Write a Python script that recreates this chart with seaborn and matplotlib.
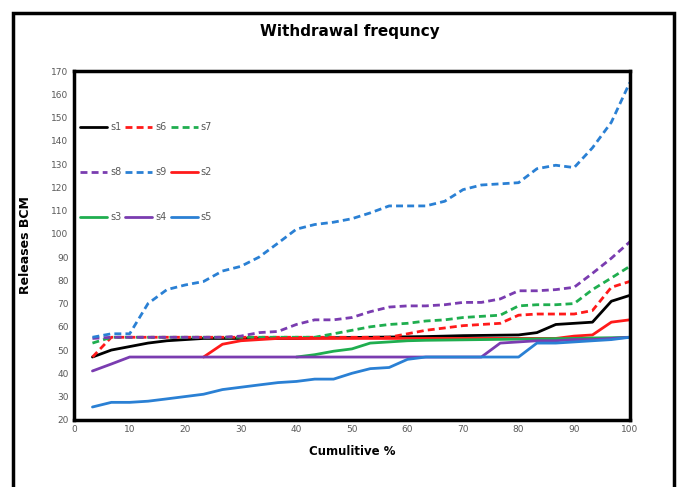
import numpy as np
import pandas as pd
import matplotlib
matplotlib.use("Agg")
import matplotlib.pyplot as plt
import seaborn as sns
from matplotlib.patches import Rectangle

# x positions (cumulative %)
cum_pct = [3.3, 6.7, 10, 13.3, 16.7, 20, 23.3, 26.7, 30, 33.3,
           36.7, 40, 43.3, 46.7, 50, 53.3, 56.7, 60, 63.3, 66.7,
           70, 73.3, 76.7, 80, 83.3, 86.7, 90, 93.3, 96.7, 100]

nan = np.nan
s1 = [47, 50, 51.5, 53, 54, 54.5, 55, 55, 55, 55,
      55, 55, 55.2, 55.3, 55.4, 55.5, 55.6, 55.7, 55.8, 56,
      56.2, 56.3, 56.4, 56.5, 57.5, 61, 61.5, 62, 71, 73.5]
s6 = [47, 55.5, 55.5, 55.5, 55.5, 55.5, 55.5, 55.5, 55.5, 55.5,
      55.5, 55.5, 55.5, 55.5, 55.5, 55.5, 55.5, 57, 58.5, 59.5,
      60.5, 61, 61.5, 65, 65.5, 65.5, 65.5, 67, 77, 79.5]
s7 = [53, 55.5, 55.5, 55.5, 55.5, 55.5, 55.5, 55.5, 55.5, 55.5,
      55.5, 55.5, 55.5, 57, 58.5, 60, 61, 61.5, 62.5, 63,
      64, 64.5, 65, 69, 69.5, 69.5, 70, 76, 81, 86]
s8 = [55, 55.5, 55.5, 55.5, 55.5, 55.5, 55.5, 55.5, 56, 57.5,
      58, 61, 63, 63, 64, 66.5, 68.5, 69, 69, 69.5,
      70.5, 70.5, 72, 75.5, 75.5, 76, 77, 83, 89.5, 96.5]
s9 = [55.5, 57, 57, 70, 76, 78, 79.5, 84, 86, 90,
      96, 102, 104, 105, 106.5, 109, 112, 112, 112, 114,
      119, 121, 121.5, 122, 128, 129.5, 128.5, 137, 148, 165]
s2 = [nan, nan, nan, nan, nan, nan, 47, 52.5, 54, 54.5,
      55, 55, 55, 55, 55, 55, 55, 55, 55, 55,
      55, 55, 55, 55, 55, 55, 56, 56.5, 62, 63]
s3 = [nan, nan, nan, nan, nan, nan, nan, nan, nan, nan,
      nan, 47, 48, 49.5, 50.5, 53, 53.5, 54, 54.2, 54.3,
      54.4, 54.5, 54.6, 54.7, 54.8, 54.9, 55, 55.2, 55.3, 55.5]
s4 = [41, 44, 47, 47, 47, 47, 47, 47, 47, 47,
      47, 47, 47, 47, 47, 47, 47, 47, 47, 47,
      47, 47, 53, 53.5, 54, 54, 54.5, 54.5, 55, 55.5]
s5 = [25.5, 27.5, 27.5, 28, 29, 30, 31, 33, 34, 35,
      36, 36.5, 37.5, 37.5, 40, 42, 42.5, 46, 47, 47,
      47, 47, 47, 47, 53, 53, 53.5, 54, 54.5, 55.5]

series_names = ["s1", "s6", "s7", "s8", "s9", "s2", "s3", "s4", "s5"]
series_vals = [s1, s6, s7, s8, s9, s2, s3, s4, s5]

RED = "#ff1a1a"
GREEN = "#1fae4f"
PURPLE = "#7a3cb0"
BLUE = "#2a80d4"
styles = {
    "s1": ("black", "-"), "s6": (RED, "--"), "s7": (GREEN, "--"),
    "s8": (PURPLE, "--"), "s9": (BLUE, "--"), "s2": (RED, "-"),
    "s3": (GREEN, "-"), "s4": (PURPLE, "-"), "s5": (BLUE, "-"),
}

sns.set_style("white")
plt.rcParams['font.family'] = ['DejaVu Sans']

fig = plt.figure(figsize=(6.8, 4.87), dpi=100)
ax = fig.add_axes([0.109, 0.138, 0.817, 0.716])

handles = {}
for name, vals in zip(series_names, series_vals):
    col, ls = styles[name]
    df = pd.DataFrame({"x": cum_pct, "y": vals})
    sns.lineplot(data=df, x="x", y="y", ax=ax, color=col, linewidth=2,
                 linestyle=ls, label=name)
    line = ax.get_lines()[-1]
    line.set_solid_joinstyle("round")
    line.set_dash_joinstyle("round")
    if ls == "--":
        line.set_dashes((2.5, 1.5))
    handles[name] = line

ax.set_xlim(0, 100)
ax.set_ylim(20, 170)
ax.set_xticks(range(0, 101, 10))
ax.set_yticks(range(20, 171, 10))
ax.tick_params(axis="both", labelsize=6.5, labelcolor="#595959", length=0, pad=4)
for sp in ax.spines.values():
    sp.set_visible(True)
    sp.set_color("black")
    sp.set_linewidth(2.5)

ax.set_xlabel("Cumulitive %", fontsize=8.5, fontweight="bold", labelpad=8, color="black")
ax.set_ylabel("Releases BCM", fontsize=9, fontweight="bold", labelpad=14, color="black")
fig.suptitle("Withdrawal frequncy", x=0.515, y=0.95, fontsize=11,
             fontweight="bold", color="black")

order = ["s1", "s8", "s3", "s6", "s9", "s4", "s7", "s2", "s5"]
ax.legend([handles[n] for n in order], order, ncol=3, loc="upper left",
          bbox_to_anchor=(0.0, 0.87), frameon=False, fontsize=7,
          labelspacing=3.6, handlelength=2.8, handletextpad=0.3,
          columnspacing=0.4, borderaxespad=0.2, labelcolor="#595959")

# outer frame around the chart
fig.patches.append(Rectangle((0.019, -0.05), 0.972, 1.023, transform=fig.transFigure,
                             fill=False, edgecolor="black", linewidth=2.5))

fig.savefig("out.png", dpi=100)
